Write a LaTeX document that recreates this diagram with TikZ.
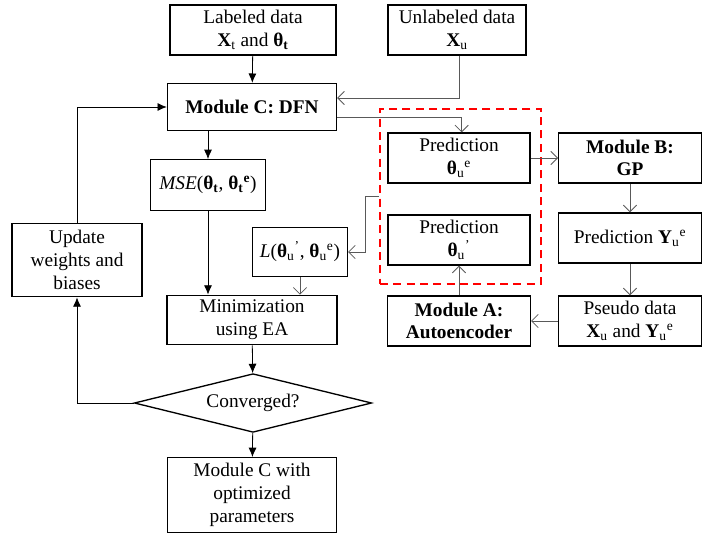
\documentclass[tikz,border=0pt]{standalone}
\usepackage{fontspec}
\setmainfont{Liberation Serif}
\usetikzlibrary{arrows.meta,shapes.geometric}
\newcommand{\bth}{\textbf{θ}}
\begin{document}
\begin{tikzpicture}[x=0.75pt,y=-0.75pt,
	every node/.style={font=\fontsize{14.5}{17}\selectfont},
	box/.style={draw,line width=1pt,rectangle,inner sep=0pt,align=center,minimum height=37.5pt},
	flow/.style={-{Latex[length=7pt,width=6pt]},line width=0.6pt},
	link/.style={-{Straight Barb[length=5pt,width=10pt]},black!65,line width=0.6pt}]
	\useasboundingbox (0,0) rectangle (720,535);
	\node[box,minimum width=124.5pt] (lab) at (253,30) {Labeled data\\\textbf{X}\textsubscript{t} and \bth\textsubscript{\textbf{t}}};
	\node[box,minimum width=103.5pt] (unl) at (457,30) {Unlabeled data\\\textbf{X}\textsubscript{u}};
	\node[box,minimum width=126.75pt,minimum height=35.25pt] (dfn) at (252,107) {\textbf{Module C: DFN}};
	\node[box,minimum width=86pt,minimum height=38pt] (mse) at (208,185) {\textit{MSE}(\bth\textsubscript{\textbf{t}}, \bth\textsubscript{\textbf{t}}\textsuperscript{\textbf{e}})};
	\node[box,minimum width=97.5pt,minimum height=55pt] (upd) at (77,260) {Update\\weights and\\biases};
	\node[box,minimum width=71pt,minimum height=37pt] (los) at (300,252) {\textit{L}(\bth\textsubscript{u}\textsuperscript{’}, \bth\textsubscript{u}\textsuperscript{e})};
	\node[box,minimum width=127.5pt,minimum height=37pt] (min) at (252,320) {Minimization\\using EA};
	\node[draw,line width=1pt,diamond,aspect=4,inner sep=0pt,minimum width=178pt,minimum height=44pt] (conv) at (253,403) {Converged?};
	\node[box,minimum width=127pt,minimum height=56pt] (opt) at (252,495) {Module C with\\optimized\\parameters};
	\node[box,minimum width=106.5pt] (prede) at (459,158) {Prediction\\\bth\textsubscript{u}\textsuperscript{e}};
	\node[box,minimum width=106.5pt] (predp) at (459,240) {Prediction\\\bth\textsubscript{u}\textsuperscript{’}};
	\node[box,minimum width=107pt] (gp) at (630,158) {\textbf{Module B:}\\\textbf{GP}};
	\node[box,minimum width=107pt] (predy) at (630,238) {Prediction \textbf{Y}\textsubscript{u}\textsuperscript{e}};
	\node[box,minimum width=107pt] (ae) at (459,321) {\textbf{Module A:}\\\textbf{Autoencoder}};
	\node[box,minimum width=107pt] (pseudo) at (630,321) {Pseudo data\\\textbf{X}\textsubscript{u} and \textbf{Y}\textsubscript{u}\textsuperscript{e}};
	\node[draw=red,line width=1.5pt,dash pattern=on 6pt off 4pt,rectangle,inner sep=0pt,minimum width=120.75pt,minimum height=131.25pt] (grp) at (460.5,196.5) {};
	\draw[flow] (lab) -- (dfn);
	\draw[link] ([xshift=2pt]unl.south) |- ([yshift=6.75pt]dfn.east);
	\draw[link] ([yshift=-7.5pt]dfn.east) -| ([xshift=2pt]prede.north);
	\draw[flow] (mse.north |- dfn.south) -- (mse);
	\draw[flow] (mse) -- (mse |- min.north);
	\draw[link] (grp.west) -- ++(-14,0) |- (los.east);
	\draw[link] (los) -- (los |- min.north);
	\draw[link] (prede) -- (gp);
	\draw[link] (gp) -- (predy);
	\draw[link] (predy) -- (pseudo);
	\draw[link] (pseudo) -- (ae);
	\draw[link] (ae) -- (predp);
	\draw[flow] (min) -- (conv);
	\draw[flow] (conv) -- (opt);
	\draw[flow] (conv.west) -| (upd.south);
	\draw[flow] (upd.north) |- (dfn.west);
\end{tikzpicture}
\end{document}
